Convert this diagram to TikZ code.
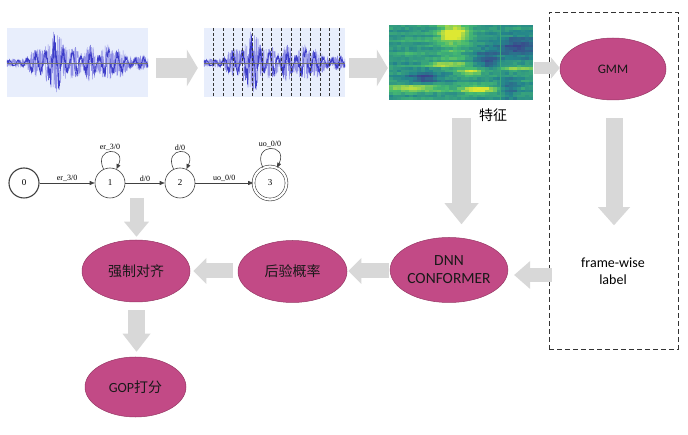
\documentclass[tikz,border=0pt]{standalone}
\usepackage{fontspec}
\setmainfont{Carlito}
\newfontfamily\cjk{Noto Sans CJK SC}
\newfontfamily\fstfont{Liberation Serif}
\usetikzlibrary{shapes.geometric,arrows.meta,calc}
\definecolor{ellfill}{RGB}{194,74,134}
\definecolor{ellborder}{RGB}{150,55,100}
\definecolor{arrowgray}{RGB}{216,216,216}
\definecolor{waveback}{RGB}{232,238,252}
\definecolor{wavedark}{RGB}{60,60,200}
\definecolor{wavelight}{RGB}{145,145,230}
\definecolor{vA}{RGB}{60,66,140}
\definecolor{vB}{RGB}{36,132,140}
\definecolor{vC}{RGB}{70,186,112}
\definecolor{vD}{RGB}{222,232,50}
\tikzset{
  declare function={
    wenv(\t)=4+28*exp(-(((\t-48)/11)^2))+9*exp(-(((\t-28)/7)^2))+17*exp(-(((\t-83)/6)^2))+16*exp(-(((\t-100)/7)^2))+12*exp(-(((\t-68)/6)^2))+11*exp(-(((\t-114)/6)^2))+4*exp(-(((\t-135)/6)^2));
  },
  wavebox/.style={rectangle, fill=waveback, draw=none, minimum width=141pt, minimum height=69pt, inner sep=0pt},
  ell/.style={ellipse, fill=ellfill, draw=ellborder, line width=0.5pt, inner sep=0pt, text=black!90},
  fststate/.style={circle, draw=black!75, line width=0.6pt, minimum size=30pt, inner sep=0pt, font=\fstfont\fontsize{9}{10}\selectfont},
  fstedge/.style={draw=black!75, line width=0.6pt, -{Triangle[length=5pt,width=4pt]}},
  fstlab/.style={font=\fstfont\fontsize{8}{9}\selectfont, inner sep=1pt},
  harrowL/.style={draw=arrowgray, line width=20pt, -{Triangle[width=37pt,length=11pt,line width=0pt]}},
  harrowS/.style={draw=arrowgray, line width=12pt, -{Triangle[width=22pt,length=9pt,line width=0pt]}},
  varrowL/.style={draw=arrowgray, line width=19pt, -{Triangle[width=34pt,length=21pt,line width=0pt]}},
  varrowG/.style={draw=arrowgray, line width=17pt, -{Triangle[width=32pt,length=18pt,line width=0pt]}},
  midarrow/.style={draw=arrowgray, line width=15pt, -{Triangle[width=26pt,length=13pt,line width=0pt]}},
  midarrowB/.style={draw=arrowgray, line width=14pt, -{Triangle[width=28pt,length=16pt,line width=0pt]}},
  midarrowV/.style={draw=arrowgray, line width=14pt, -{Triangle[width=25pt,length=15pt,line width=0pt]}},
  gopArrow/.style={draw=arrowgray, line width=17pt, -{Triangle[width=28pt,length=18pt,line width=0pt]}},
}
\newcommand\drawwave[1]{%
  \pgfmathsetseed{5}%
  \draw[wavelight, line width=0.5pt] plot[domain=0:141, samples=600, variable=\t] ({#1+\t},{-63+1.0*wenv(\t)*(2*rnd-1)});
  \pgfmathsetseed{9}%
  \draw[wavedark, line width=0.45pt] plot[domain=0:141, samples=600, variable=\t] ({#1+\t},{-63+0.95*wenv(\t)*(0.6*sin(\t*40)+0.4*(2*rnd-1))});
  \draw[black!55, line width=0.3pt] (#1,-63) -- ({#1+141},-63);
}
\begin{document}
\begin{tikzpicture}[x=1pt,y=1pt]
\useasboundingbox (0,0) rectangle (688,-435);

% waveforms
\node[wavebox] (w1) at (77.5,-62.5) {};
\node[wavebox] (w2) at (274.5,-62.5) {};
\drawwave{7}
\drawwave{204}
\foreach \x in {213,223,233,242,252,262,271,281,291,300,310,320,329,339}
  \draw[black!80, dash pattern=on 3pt off 2pt, line width=0.5pt] (\x,-28) -- (\x,-97);

% spectrogram
\node[minimum width=144pt, minimum height=75pt, inner sep=0pt] (spec) at (461,-62.5) {};
\pgfmathsetseed{11}
\foreach \i in {0,...,35}{
  \foreach \j in {0,...,29}{
    \pgfmathsetmacro\u{(\i*4+2)/10}
    \pgfmathsetmacro\w{(\j*2.5+1.25)/10}
    \pgfmathsetmacro\v{0.46+0.14*(rnd-0.5)+0.07*sin(\j*137+\i*9)
      +0.55*exp(-(((\u-6.5)^2)/2.5+((\w-0.9)^2)/0.5))
      +0.18*exp(-(((\u-6.4)^2)/2.5))*(\w<3.6)
      +0.45*exp(-(((\w-4.0)^2)/0.12+((\u-5.8)^2)/4))
      +0.50*exp(-(((\w-4.7)^2)/0.15+((\u-8.3)^2)/2))
      +0.50*exp(-(((\w-6.35)^2)/0.15+((\u-2.4)^2)/10))
      +0.55*exp(-(((\w-6.5)^2)/0.18+((\u-9.0)^2)/4))
      +0.32*exp(-(((\w-4.35)^2)/0.08+((\u-13)^2)/4))
      +0.15*exp(-(((\w-1.6)^2)/0.06+((\u-2.5)^2)/6))
      +0.12*exp(-(((\w-3.0)^2)/0.06+((\u-2)^2)/6))
      -0.40*exp(-(((\u-3.5)^2)/2.5+((\w-5.3)^2)/0.4))
      -0.35*exp(-(((\u-9.8)^2)/1.5+((\w-3.5)^2)/1))
      -0.42*exp(-(((\u-13)^2)/4+((\w-2.2)^2)/1))
      -0.25*exp(-(((\u-12)^2)/1+((\w-6.3)^2)/0.8))}
    \pgfmathsetmacro\v{max(0,min(0.999,\v))}
    \pgfmathtruncatemacro\seg{\v<0.3333 ? 0 : (\v<0.6667 ? 1 : 2)}
    \pgfmathtruncatemacro\p{(\v-\seg/3)*300}
    \ifcase\seg \colorlet{cc}{vB!\p!vA}\or \colorlet{cc}{vC!\p!vB}\else \colorlet{cc}{vD!\p!vC}\fi
    \fill[cc] ({389+\i*4},{-25-\j*2.5}) rectangle ++(4.2,-2.7);
  }
}
\draw[vC!70!vB, line width=0.6pt] (500,-25) -- (500,-100);
\node[font=\cjk\fontsize{14}{16}\selectfont] (feat) at (493,-115) {特征};

% dashed box
\node[draw=black!80, dash pattern=on 5pt off 3pt, line width=0.7pt, minimum width=129pt, minimum height=337pt, inner sep=0pt] (lbox) at (613.5,-180.5) {};

% ellipses
\node[ell, minimum width=106pt, minimum height=62pt, font=\fontsize{13}{15}\selectfont] (gmm) at (613,-69) {GMM};
\node[ell, minimum width=109pt, minimum height=65pt, align=center, font=\fontsize{15.5}{18}\selectfont] (dnn) at (449,-270) {DNN\\CONFORMER};
\node[ell, minimum width=109pt, minimum height=62pt, font=\cjk\fontsize{14}{16}\selectfont] (hou) at (292.5,-271.5) {后验概率};
\node[ell, minimum width=108pt, minimum height=62pt, font=\cjk\fontsize{14}{16}\selectfont] (qz) at (136,-271) {强制对齐};
\node[ell, minimum width=101pt, minimum height=60pt, font=\fontsize{14}{16}\selectfont] (gop) at (135.5,-387) {GOP{\cjk 打分}};
\node[font=\fontsize{14}{17}\selectfont, align=center] (fw) at (613,-271) {frame-wise\\label};

% FST
\node[fststate, line width=1.1pt] (s0) at (24,-183) {0};
\node[fststate] (s1) at (110,-183) {1};
\node[fststate] (s2) at (180,-183) {2};
\node[fststate, double, double distance=2.2pt, minimum size=33pt] (s3) at (270,-183) {3};
\draw[fstedge] (s0) -- node[fstlab, above] {er\_3/0} (s1);
\draw[fstedge] (s1) -- node[fstlab, above] {d/0} (s2);
\draw[fstedge] (s2) -- node[fstlab, above] {uo\_0/0} (s3);
\draw[fstedge] (s1) to[out=115,in=65,looseness=5] node[fstlab, above] {er\_3/0} (s1);
\draw[fstedge] (s2) to[out=115,in=65,looseness=5] node[fstlab, above] {d/0} (s2);
\draw[fstedge] (s3) to[out=115,in=65,looseness=5] node[fstlab, above] {uo\_0/0} (s3);
\coordinate (fstb) at (136.5,-198);

% gray block arrows
\draw[harrowL] ($(w1.east)+(8,-5.5)$) -- ($(w2.west)+(-6,-5.5)$);
\draw[harrowL] ($(w2.east)+(4,-5.5)$) -- ($(spec.west)+(-1,-5.5)$);
\draw[harrowS] ($(spec.east)+(1,-5.5)$) -- ($(gmm.west)+(0,1)$);
\draw[varrowL] ($(spec.south)+(0.5,-18)$) -- ($(spec.south |- dnn.north)+(0.5,13)$);
\draw[varrowG] ($(gmm.south)+(1,-18)$) -- ($(gmm.south)+(1,-125)$);
\draw[midarrowB] ($(lbox.west)+(3,-94.5)$) -- ($(dnn.east)+(6,-5)$);
\draw[midarrow] ($(dnn.west)+(-1,-1)$) -- ($(hou.east)+(1,0.5)$);
\draw[midarrow] ($(hou.west)+(-5,0.5)$) -- ($(qz.east)+(3,0)$);
\draw[midarrowV] (fstb) -- ($(qz.north)+(0.5,3)$);
\draw[gopArrow] ($(qz.south)+(0.5,-8)$) -- ($(gop.north)+(1,5)$);
\end{tikzpicture}
\end{document}
